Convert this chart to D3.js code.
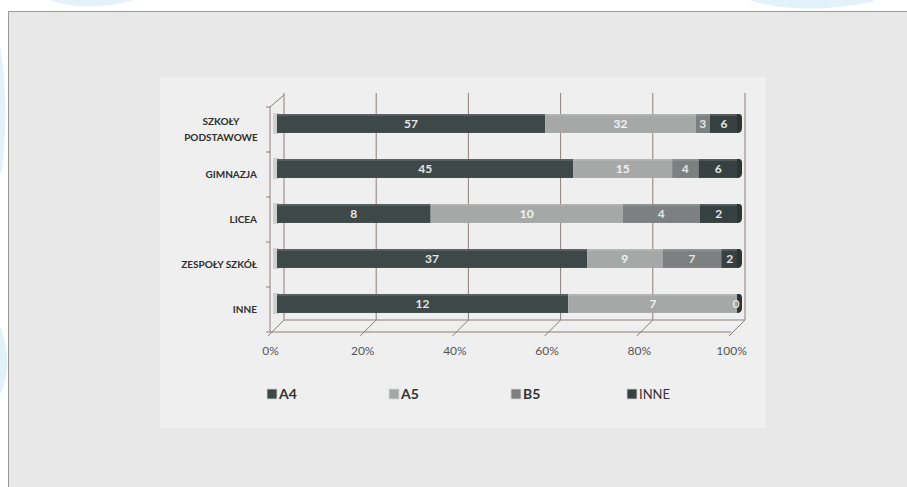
<!DOCTYPE html>
<html>
<head>
<meta charset="utf-8">
<script src="https://cdn.jsdelivr.net/npm/d3@7"></script>
<style>
  html, body { margin: 0; padding: 0; background: #fff; }
  svg { display: block; font-family: Lato, "Open Sans", sans-serif; }
</style>
</head>
<body>
<div id="chart"></div>
<script>
// data
const categories = ["SZKOŁY PODSTAWOWE", "GIMNAZJA", "LICEA", "ZESPOŁY SZKÓŁ", "INNE"];
const seriesNames = ["A4", "A5", "B5", "INNE"];
const a4 = [57, 45, 8, 37, 12];
const a5 = [32, 15, 10, 9, 7];
const b5 = [3, 4, 4, 7, 0];
const inne = [6, 6, 2, 2, 0];
const tickValues = [0, 0.2, 0.4, 0.6, 0.8, 1];
const colors = ["#3e4848", "#a6a8a8", "#7c8080", "#384141"];

const width = 907, height = 487;
const depthX = 14, depthY = -12;

const svg = d3.select("#chart").append("svg")
    .attr("width", width)
    .attr("height", height);

// watermark swooshes behind the panel
const sw = svg.append("g").attr("fill", "none").attr("stroke", "#e2f2f8").attr("stroke-linecap", "round");
sw.append("path").attr("d", "M40,-10 Q80,8 130,-5").attr("stroke-width", 12);
sw.append("path").attr("d", "M-5,40 Q6,100 -2,170").attr("stroke-width", 8);
sw.append("path").attr("d", "M-4,330 Q8,360 -3,390").attr("stroke-width", 10);
sw.append("path").attr("d", "M750,-6 Q800,10 870,-4").attr("stroke-width", 12);

// grey panel
svg.append("rect")
    .attr("x", 8.5).attr("y", 11.5)
    .attr("width", width).attr("height", height)
    .attr("fill", "#e8e8e8")
    .attr("stroke", "#9a9a9a");

// lighter chart area
svg.append("rect")
    .attr("x", 160).attr("y", 77)
    .attr("width", 606).attr("height", 351)
    .attr("fill", "#efefef");

const x = d3.scaleLinear().domain([0, 1]).range([270, 731]);
const y = d3.scaleBand().domain(categories).range([107, 332]).paddingInner(0.58).paddingOuter(0.29);
const yCat = d3.scaleBand().domain(categories).range([107, 332]);

const axisColor = "#8c7f7a";
const plotTop = 107, plotBottom = 332;

// back wall gridlines
svg.append("g").selectAll("line")
    .data(tickValues)
    .join("line")
    .attr("x1", d => x(d) + depthX).attr("x2", d => x(d) + depthX)
    .attr("y1", plotTop + depthY - 2).attr("y2", plotBottom + depthY)
    .attr("stroke", axisColor).attr("stroke-width", 1);

// floor
const floor = svg.append("g").attr("stroke", axisColor).attr("fill", "none");
floor.append("line")
    .attr("x1", x(0) + depthX).attr("x2", x(1) + depthX)
    .attr("y1", plotBottom + depthY).attr("y2", plotBottom + depthY);
floor.append("line")
    .attr("x1", x(0)).attr("x2", x(1))
    .attr("y1", plotBottom).attr("y2", plotBottom);
floor.selectAll("path.tk")
    .data(tickValues)
    .join("path")
    .attr("class", "tk")
    .attr("d", d => `M${x(d) - 2},${plotBottom + 4}L${x(d) + depthX},${plotBottom + depthY}`);

// left wall
const wall = svg.append("g").attr("stroke", axisColor).attr("fill", "none");
wall.append("path")
    .attr("d", `M${x(0)},${plotBottom}V${plotTop}L${x(0) + depthX},${plotTop + depthY}`);
wall.selectAll("line.ct")
    .data(d3.range(categories.length + 1))
    .join("line")
    .attr("class", "ct")
    .attr("x1", x(0) - 4).attr("x2", x(0))
    .attr("y1", i => plotTop + i * yCat.step())
    .attr("y2", i => plotTop + i * yCat.step());

// stacked data
const rows = categories.map((c, i) => {
    const vals = [a4[i], a5[i], b5[i], inne[i]];
    const total = d3.sum(vals);
    let acc = 0;
    return vals.map((v, s) => {
        const seg = { cat: c, series: seriesNames[s], value: v, s: s, x0: acc / total, x1: (acc + v) / total };
        acc += v;
        return seg;
    });
});

const bh = y.bandwidth();
const bars = svg.append("g").attr("transform", `translate(${depthX / 2},${depthY / 2})`);

const rowG = bars.selectAll("g.row")
    .data(rows)
    .join("g")
    .attr("class", "row");

// soft shadow at the bar start
rowG.append("rect")
    .attr("x", x(0) - 4).attr("width", 6)
    .attr("y", d => y(d[0].cat) - 1).attr("height", bh + 2)
    .attr("fill", "#b0b0b0").attr("opacity", 0.5);

rowG.selectAll("rect.seg")
    .data(d => d)
    .join("rect")
    .attr("class", "seg")
    .attr("x", d => x(d.x0))
    .attr("width", d => Math.max(0, x(d.x1) - x(d.x0)))
    .attr("y", d => y(d.cat))
    .attr("height", bh)
    .attr("fill", d => colors[d.s]);

// top highlight edge
rowG.selectAll("rect.hl")
    .data(d => d)
    .join("rect")
    .attr("class", "hl")
    .attr("x", d => x(d.x0))
    .attr("width", d => Math.max(0, x(d.x1) - x(d.x0)))
    .attr("y", d => y(d.cat))
    .attr("height", 2)
    .attr("fill", "#ffffff").attr("opacity", 0.12);

// rounded dark end cap
rowG.append("path")
    .attr("d", d => {
        const xe = x(1), y0 = y(d[0].cat);
        return `M${xe - 1},${y0}H${xe + 1}Q${xe + 4},${y0} ${xe + 4},${y0 + 4}V${y0 + bh - 5}Q${xe + 4},${y0 + bh} ${xe - 1},${y0 + bh}Z`;
    })
    .attr("fill", "#2c3434");

// value labels
rowG.selectAll("text")
    .data(d => d.filter(s => s.value > 0 || s.s === 3))
    .join("text")
    .attr("x", d => d.value === 0 ? x(1) - 2 : (x(d.x0) + x(d.x1)) / 2)
    .attr("y", d => y(d.cat) + bh / 2)
    .attr("dy", "0.36em")
    .attr("text-anchor", "middle")
    .attr("font-size", 12)
    .attr("font-weight", 700)
    .attr("fill", d => d.s === 1 ? "#f2f2f2" : "#e4e6e6")
    .text(d => d.value);

// category labels
const catG = svg.append("g")
    .attr("transform", `translate(${x(0)},0)`)
    .call(d3.axisLeft(yCat).tickSize(0).tickPadding(13));
catG.select(".domain").remove();
catG.selectAll("text")
    .attr("font-size", 10)
    .attr("font-weight", 700)
    .attr("fill", "#2e2e2e")
    .attr("font-family", "Lato, sans-serif")
    .each(function (d) {
        const t = d3.select(this);
        if (d === "SZKOŁY PODSTAWOWE") {
            t.text(null).attr("text-anchor", "middle").attr("x", -49);
            t.append("tspan").attr("x", -49).attr("dy", "-0.5em").text("SZKOŁY");
            t.append("tspan").attr("x", -49).attr("dy", "1.6em").text("PODSTAWOWE");
        }
    });

// value axis labels
const xAxisG = svg.append("g")
    .attr("transform", `translate(0,${plotBottom + 11})`)
    .call(d3.axisBottom(x).tickValues(tickValues).tickFormat(d3.format(".0%")).tickSize(0));
xAxisG.select(".domain").remove();
xAxisG.selectAll("text")
    .attr("font-size", 12)
    .attr("fill", "#555")
    .attr("font-family", "Lato, sans-serif");

// legend
const legendX = [267, 389, 511, 627];
const legend = svg.append("g").attr("transform", "translate(0,394)");
const li = legend.selectAll("g")
    .data(seriesNames)
    .join("g")
    .attr("transform", (d, i) => `translate(${legendX[i]},0)`);
li.append("rect")
    .attr("x", 0).attr("y", -5)
    .attr("width", 10).attr("height", 10)
    .attr("fill", (d, i) => colors[i])
    .attr("stroke", "#d8d8d8").attr("stroke-width", 0.8);
li.append("text")
    .attr("x", 12).attr("dy", "0.36em")
    .attr("font-size", (d, i) => i === 3 ? 13 : 14)
    .attr("font-weight", (d, i) => i === 3 ? 400 : 700)
    .attr("fill", "#333")
    .text(d => d);
</script>
</body>
</html>
